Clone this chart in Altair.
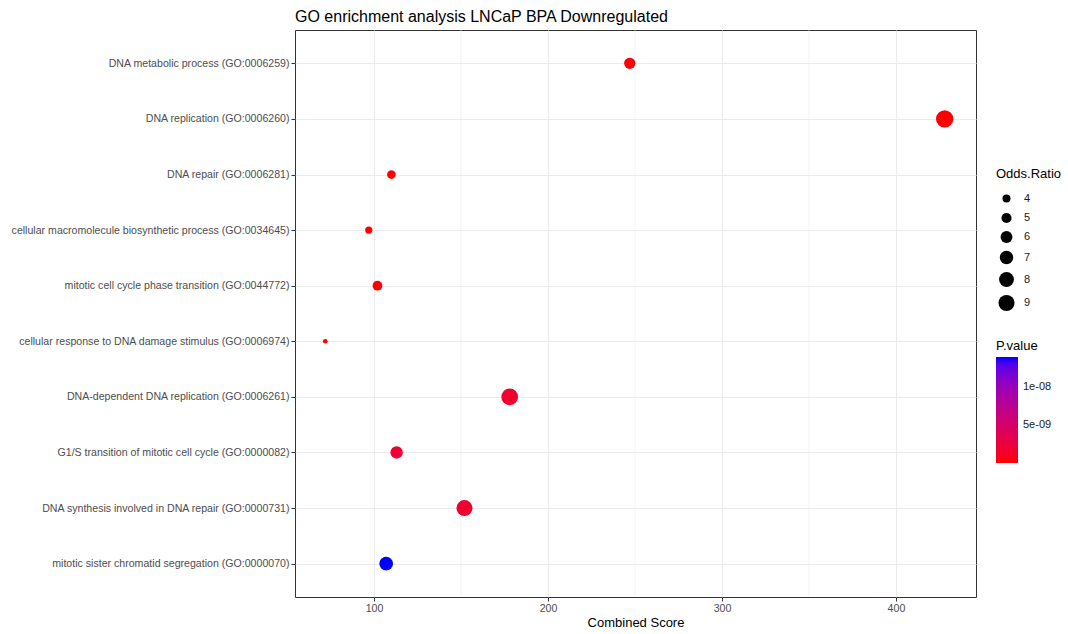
import altair as alt
import pandas as pd

# GO terms, top to bottom
terms = [
    "DNA metabolic process (GO:0006259)",
    "DNA replication (GO:0006260)",
    "DNA repair (GO:0006281)",
    "cellular macromolecule biosynthetic process (GO:0034645)",
    "mitotic cell cycle phase transition (GO:0044772)",
    "cellular response to DNA damage stimulus (GO:0006974)",
    "DNA-dependent DNA replication (GO:0006261)",
    "G1/S transition of mitotic cell cycle (GO:0000082)",
    "DNA synthesis involved in DNA repair (GO:0000731)",
    "mitotic sister chromatid segregation (GO:0000070)",
]
combined_score = [247, 428, 110, 97, 102, 72, 178, 113, 152, 107]
odds_ratio = [5.65, 10.1, 4.3, 3.7, 4.8, 2.9, 9.6, 6.3, 9.0, 7.2]
p_value = [4.0e-11, 2.0e-11, 9.0e-11, 1.2e-10, 1.0e-10, 3.0e-11,
           1.6e-09, 1.9e-09, 1.8e-09, 1.39e-08]

odds_legend_values = [4, 5, 6, 7, 8, 9]
p_legend_values = [5e-09, 1e-08]
minor_breaks = [150, 250, 350]

df = pd.DataFrame({
    "term": terms,
    "combined_score": combined_score,
    "odds_ratio": odds_ratio,
    "p_value": p_value,
})
minor_df = pd.DataFrame({"x": minor_breaks})

FONT = "Liberation Sans"
x_scale = alt.Scale(domain=[54.6, 446], nice=False, zero=False)

# thinner minor grid lines between the labelled breaks
minor_grid = alt.Chart(minor_df).mark_rule(color="#EBEBEB", strokeWidth=0.6).encode(
    x=alt.X("x:Q", scale=x_scale)
)

points = alt.Chart(df).mark_circle(opacity=1).encode(
    x=alt.X(
        "combined_score:Q",
        scale=x_scale,
        title="Combined Score",
        axis=alt.Axis(values=[100, 200, 300, 400]),
    ),
    y=alt.Y(
        "term:N",
        sort=terms,
        title=None,
        scale=alt.Scale(type="point", padding=0.6),
        axis=alt.Axis(labelLimit=0),
    ),
    size=alt.Size(
        "odds_ratio:Q",
        scale=alt.Scale(domain=[2.34, 10.1], range=[0, 300], zero=False),
        legend=alt.Legend(
            title="Odds.Ratio",
            values=odds_legend_values,
            orient="none",
            legendX=701,
            legendY=138,
            symbolFillColor="black",
            symbolStrokeWidth=0,
            symbolOffset=2,
            rowPadding=7.5,
            labelOffset=9,
            titlePadding=12,
        ),
    ),
    color=alt.Color(
        "p_value:Q",
        scale=alt.Scale(range=["#FF0000", "#0000FF"], interpolate="lab", zero=False, nice=False),
        legend=alt.Legend(
            title="P.value",
            values=p_legend_values,
            labelExpr="replace(format(datum.value, '.0e'), 'e-', 'e-0')",
            orient="none",
            legendX=701,
            legendY=310,
            gradientLength=106,
            gradientThickness=22,
            labelOffset=5,
            titlePadding=4,
        ),
    ),
)

chart = (
    alt.layer(minor_grid, points)
    .properties(
        width=681,
        height=567,
        title=alt.Title(
            "GO enrichment analysis LNCaP BPA Downregulated",
            anchor="start",
            frame="group",
            fontSize=16,
            font=FONT,
            fontWeight="normal",
            color="black",
            offset=5,
        ),
        autosize=alt.AutoSizeParams(type="none"),
        padding={"left": 295, "top": 30, "right": 92, "bottom": 37},
    )
    .configure_view(stroke="#333333", strokeWidth=1)
    .configure_axis(
        domain=False,
        grid=True,
        gridColor="#EBEBEB",
        gridWidth=1.1,
        tickColor="#333333",
        tickSize=4,
        labelFont=FONT,
        labelFontSize=10.6,
        labelColor="#4D4D4D",
        labelPadding=2,
        titleFont=FONT,
        titleFontSize=13,
        titleFontWeight="normal",
        titleColor="black",
        titlePadding=3,
    )
    .configure_legend(
        titleFont=FONT,
        titleFontSize=13,
        titleFontWeight="normal",
        titleColor="black",
        labelFont=FONT,
        labelFontSize=11,
        labelColor="#1A1A1A",
    )
)

chart.save("out.html", embed_options={"renderer": "svg", "actions": False})
